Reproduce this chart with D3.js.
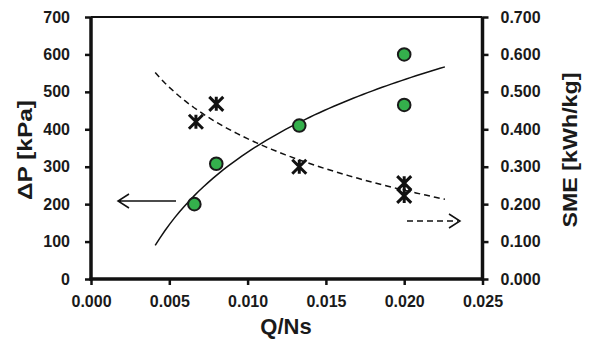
<!DOCTYPE html>
<html>
  <head>
    <meta http-equiv="Content-Type" content="text/html;charset=utf-8">
    <script src="https://d3js.org/d3.v7.min.js"></script>
    <style>
      body { margin: 0; background: #fff; }
      text { font-family: "Liberation Sans", Arial, sans-serif; font-weight: bold; fill: #1a1a1a; }
    </style>
  </head>
  <body>
    <svg id="chart" width="592" height="345"></svg>
    <script type="text/javascript">

// measured points
var qns = [0.0066, 0.008, 0.0133, 0.020, 0.020];
var dP = [200, 308, 410, 600, 465];
var smeQ = [0.0067, 0.008, 0.0133, 0.020, 0.020];
var sme = [0.420, 0.468, 0.300, 0.256, 0.222];

// trendline extent (Excel log fit)
var trendRange = [0.0041, 0.0226];

var xTicks = [0, 0.005, 0.010, 0.015, 0.020, 0.025];
var leftTicks = [0, 100, 200, 300, 400, 500, 600, 700];
var rightTicks = [0, 0.1, 0.2, 0.3, 0.4, 0.5, 0.6, 0.7];

var svg = d3.select("#chart");
var L = 91, R = 482.5, T = 17, B = 279;

var x = d3.scaleLinear().domain([0, 0.025]).range([L, R]);
var yL = d3.scaleLinear().domain([0, 700]).range([B, T]);
var yR = d3.scaleLinear().domain([0, 0.7]).range([B, T]);

// log regression y = a*ln(x) + b
function logFit(xs, ys) {
  var lx = xs.map(Math.log);
  var mx = d3.mean(lx), my = d3.mean(ys);
  var sxy = d3.sum(lx, function(v, i) { return (v - mx) * (ys[i] - my); });
  var sxx = d3.sum(lx, function(v) { return (v - mx) * (v - mx); });
  var a = sxy / sxx;
  var b = my - a * mx;
  return function(v) { return a * Math.log(v) + b; };
}

var fitP = logFit(qns, dP);
var fitS = logFit(smeQ, sme);
var xs = d3.range(0, 61).map(function(i) { return trendRange[0] + (trendRange[1] - trendRange[0]) * i / 60; });

var lineP = d3.line().x(function(d) { return x(d); }).y(function(d) { return yL(fitP(d)); });
var lineS = d3.line().x(function(d) { return x(d); }).y(function(d) { return yR(fitS(d)); });

svg.append("path").attr("d", lineP(xs)).attr("fill", "none")
  .attr("stroke", "#111").attr("stroke-width", 1.5);
svg.append("path").attr("d", lineS(xs)).attr("fill", "none")
  .attr("stroke", "#111").attr("stroke-width", 1.5).attr("stroke-dasharray", "6,4");

// axes
var gx = svg.append("g").attr("transform", "translate(0," + B + ")")
  .call(d3.axisBottom(x).tickValues(xTicks).tickFormat(d3.format(".3f")).tickSize(6).tickPadding(11));
var gl = svg.append("g").attr("transform", "translate(" + L + ",0)")
  .call(d3.axisLeft(yL).tickValues(leftTicks).tickSize(6).tickPadding(15));
var gr = svg.append("g").attr("transform", "translate(" + R + ",0)")
  .call(d3.axisRight(yR).tickValues(rightTicks).tickFormat(d3.format(".3f")).tickSize(6).tickPadding(12));

[gx, gl, gr].forEach(function(g) {
  g.select(".domain").attr("stroke", "#111").attr("stroke-width", 3.5);
  g.selectAll(".tick line").attr("stroke", "#111").attr("stroke-width", 2.5);
  g.selectAll(".tick text").style("font-size", "16px").attr("fill", "#1a1a1a");
});
gx.select(".domain").attr("d", "M" + (L - 1.5) + ",0H" + (R + 1.5));
gl.select(".domain").attr("d", "M0," + (B + 1.5) + "V" + T);
gr.select(".domain").attr("d", "M0," + (B + 1.5) + "V" + T);

svg.append("line").attr("x1", L).attr("x2", R).attr("y1", T).attr("y2", T)
  .attr("stroke", "#111").attr("stroke-width", 2);

// markers
svg.selectAll("circle.p").data(qns).enter().append("circle")
  .attr("cx", function(d) { return x(d); })
  .attr("cy", function(d, i) { return yL(dP[i]); })
  .attr("r", 6.3).attr("fill", "#34b04c").attr("stroke", "#1a1a1a").attr("stroke-width", 2);

var s = 7;
svg.selectAll("path.s").data(smeQ).enter().append("path")
  .attr("transform", function(d, i) { return "translate(" + x(d) + "," + yR(sme[i]) + ")"; })
  .attr("d", "M" + (-s) + "," + (-s) + "L" + s + "," + s + "M" + s + "," + (-s) + "L" + (-s) + "," + s + "M0," + (-s) + "V" + s)
  .attr("fill", "none").attr("stroke", "#111").attr("stroke-width", 3);

// arrows
svg.append("path").attr("d", "M176,201H118M129,194L118,201L129,208")
  .attr("fill", "none").attr("stroke", "#111").attr("stroke-width", 1.5);
svg.append("path").attr("d", "M407,221H458").attr("fill", "none")
  .attr("stroke", "#111").attr("stroke-width", 1.5).attr("stroke-dasharray", "6,4");
svg.append("path").attr("d", "M449,214L460,221L449,228")
  .attr("fill", "none").attr("stroke", "#111").attr("stroke-width", 1.5);

// titles
svg.append("text").attr("transform", "translate(32,150) rotate(-90)")
  .attr("text-anchor", "middle").style("font-size", "20px")
  .attr("textLength", 100).attr("lengthAdjust", "spacingAndGlyphs").text("ΔP [kPa]");
svg.append("text").attr("transform", "translate(577,150) rotate(-90)")
  .attr("text-anchor", "middle").style("font-size", "20px")
  .attr("textLength", 155).attr("lengthAdjust", "spacingAndGlyphs").text("SME [kWh/kg]");
svg.append("text").attr("x", 286).attr("y", 334)
  .attr("text-anchor", "middle").style("font-size", "22px").text("Q/Ns");

    </script>
  </body>
</html>
